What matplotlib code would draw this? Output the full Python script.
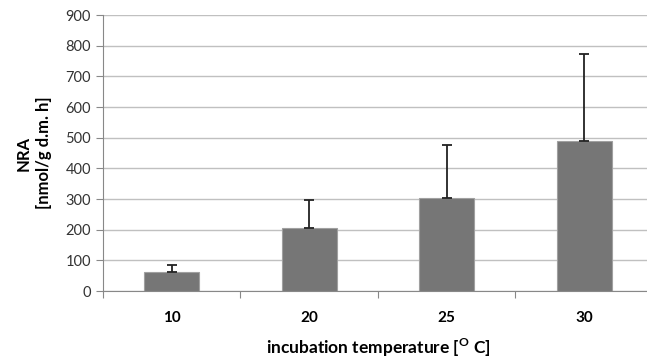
import matplotlib
matplotlib.use('Agg')
import numpy as np
import matplotlib.pyplot as plt

# data
temps = ['10', '20', '25', '30']
nra = [63, 205, 305, 490]
nra_err = [22, 92, 170, 283]

plt.rcParams['font.family'] = ['Lato', 'DejaVu Sans']
plt.rcParams['mathtext.fontset'] = 'custom'
plt.rcParams['mathtext.bf'] = 'Lato:bold'

fig = plt.figure(figsize=(6.47, 3.59), dpi=100)
ax = fig.add_axes([0.159, 0.189, 0.85, 0.769])

x = np.arange(len(temps))
ax.bar(x, nra, width=0.4, color='#767676', edgecolor='#a0a0a0', linewidth=0.8, zorder=2)
ax.errorbar(x, nra, yerr=[np.zeros(len(nra)), nra_err], fmt='none', ecolor='#222222',
            elinewidth=1.3, capsize=3.5, capthick=1.3, zorder=3)

ax.set_xlim(-0.5, len(temps) - 0.5)
ax.set_ylim(0, 900)
ax.set_yticks(np.arange(0, 901, 100))
ax.yaxis.grid(True, color='#c0c0c0', linewidth=1.0, zorder=0)
ax.set_axisbelow(True)

# category ticks sit between the bars
ax.set_xticks(np.arange(-0.5, len(temps), 1.0))
ax.set_xticklabels([])
ax.set_xticks(x, minor=True)
ax.set_xticklabels(temps, minor=True, fontweight='bold', fontsize=11)
ax.tick_params(axis='x', which='minor', length=0, pad=14)
ax.tick_params(axis='x', which='major', length=5, color='#888888')
ax.tick_params(axis='y', length=5, color='#888888', labelsize=10.5, labelcolor='#333333')

for s in ['top', 'right']:
    ax.spines[s].set_visible(False)
for s in ['left', 'bottom']:
    ax.spines[s].set_color('#888888')

ax.set_ylabel('NRA\n[nmol/g d.m. h]', fontweight='bold', fontsize=12, labelpad=10,
              linespacing=1.3)
ax.set_xlabel(r'incubation temperature [$^{\mathbf{O}}$ C]', fontweight='bold', fontsize=12.5,
              labelpad=9)

fig.savefig('out.png', dpi=100)
